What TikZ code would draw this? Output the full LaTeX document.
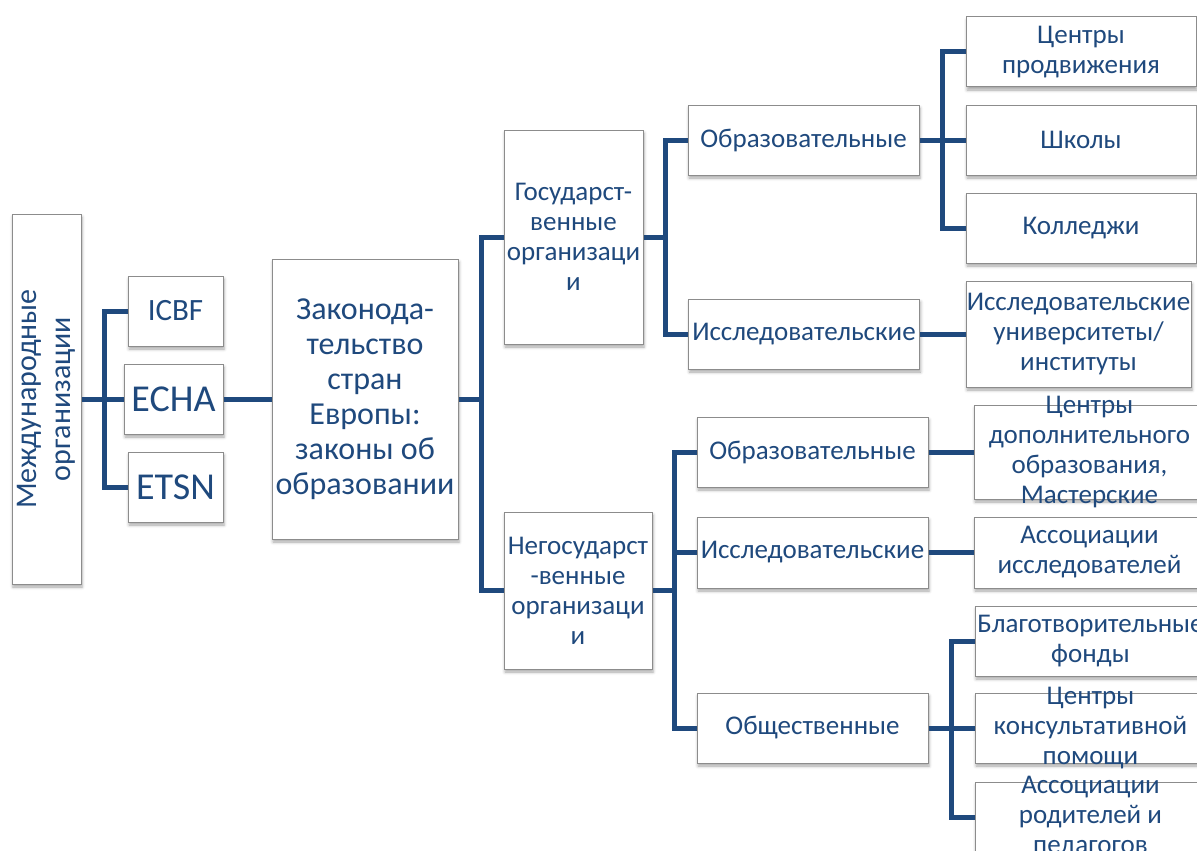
\documentclass[tikz,border=0pt]{standalone}
\usepackage{fontspec}
\setmainfont{Carlito}
\usetikzlibrary{shadows.blur}
\definecolor{navy}{RGB}{31,73,125}
\definecolor{frame}{RGB}{140,140,140}

\begin{document}
\begin{tikzpicture}[x=1pt, y=-1pt,
  box/.style={draw=frame, line width=1pt, fill=white, inner sep=0pt,
    blur shadow={shadow xshift=1pt, shadow yshift=-3pt, shadow blur radius=3pt, shadow opacity=35}},
  txt/.style={text=navy, align=center, inner sep=0pt, font=\fontsize{27}{30}\selectfont},
  big/.style={txt, font=\fontsize{32}{35}\selectfont},
  link/.style={draw=navy, line width=5pt}]
\useasboundingbox (0,0) rectangle (1197,851);
\clip (0,0) rectangle (1197,851);

\node[box, minimum width=69pt, minimum height=370pt,
  label={[txt, rotate=90, font=\fontsize{30}{34}\selectfont]center:{Международные\\организации}}] (mezh) at (46.5,399) {};
\node[box, minimum width=95pt, minimum height=70pt,
  label={[txt, font=\fontsize{31}{35}\selectfont]center:ICBF}] (icbf) at (175.5,311) {};
\node[box, minimum width=99pt, minimum height=70pt,
  label={[txt, font=\fontsize{38}{40}\selectfont]center:ECHA}] (echa) at (173.5,399) {};
\node[box, minimum width=95pt, minimum height=70pt,
  label={[txt, font=\fontsize{38}{40}\selectfont]center:ETSN}] (etsn) at (175.5,487) {};
\node[box, minimum width=186pt, minimum height=280pt,
  label={[big]center:{Законода-\\тельство\\стран\\Европы:\\законы об\\образовании}}] (zakon) at (365,399) {};

\node[box, minimum width=139pt, minimum height=214pt,
  label={[txt]center:{Государст-\\венные\\организаци\\и}}] (gos) at (573.5,237) {};
\node[box, minimum width=148pt, minimum height=157pt,
  label={[txt]center:{Негосударст\\-венные\\организаци\\и}}] (negos) at (578,590.5) {};

\node[box, minimum width=231pt, minimum height=70pt,
  label={[txt]center:Образовательные}] (obr1) at (803.5,140) {};
\node[box, minimum width=231pt, minimum height=70pt,
  label={[txt]center:Исследовательские}] (iss1) at (804,334) {};
\node[box, minimum width=230pt, minimum height=70pt,
  label={[txt]center:{Центры\\продвижения}}] (centr) at (1081,52) {};
\node[box, minimum width=230pt, minimum height=70pt,
  label={[txt]center:Школы}] (shk) at (1081,140) {};
\node[box, minimum width=230pt, minimum height=70pt,
  label={[txt]center:Колледжи}] (koll) at (1081,228) {};
\node[box, minimum width=225pt, minimum height=106pt,
  label={[txt]center:{Исследовательские\\университеты/\\институты}}] (univ) at (1078.5,334) {};

\node[box, minimum width=231pt, minimum height=70pt,
  label={[txt]center:Образовательные}] (obr2) at (812.5,452) {};
\node[box, minimum width=231pt, minimum height=71pt,
  label={[txt]center:Исследовательские}] (iss2) at (812.5,552.5) {};
\node[box, minimum width=231pt, minimum height=70pt,
  label={[txt]center:Общественные}] (obsh) at (812.5,728) {};
\node[box, minimum width=231pt, minimum height=94pt,
  label={[txt]center:{Центры\\дополнительного\\образования,\\Мастерские}}] (dop) at (1089.5,452) {};
\node[box, minimum width=231pt, minimum height=71pt,
  label={[txt]center:{Ассоциации\\исследователей}}] (assoc) at (1089.5,552.5) {};
\node[box, minimum width=231pt, minimum height=70pt,
  label={[txt]center:{Благотворительные\\фонды}}] (blag) at (1090.5,641) {};
\node[box, minimum width=231pt, minimum height=70pt,
  label={[txt]center:{Центры\\консультативной\\помощи}}] (kons) at (1090.5,728) {};
\node[box, minimum width=231pt, minimum height=70pt,
  label={[txt]center:{Ассоциации\\родителей и\\педагогов}}] (rod) at (1090.5,817) {};

\coordinate (j1) at (104,399);
\coordinate (j2) at (481,399);
\coordinate (j3) at (665,237);
\coordinate (j4) at (942,140);
\coordinate (j5) at (674,590.5);
\coordinate (j6) at (951,728);

\draw[link] (mezh) -- (echa);
\draw[link] (icbf.west) -| (j1) |- (etsn.west);
\draw[link] (echa) -- (zakon);
\draw[link] (zakon) -- (j2);
\draw[link] (gos.west) -| (j2) |- (negos.west);
\draw[link] (gos) -- (j3);
\draw[link] (obr1.west) -| (j3) |- (iss1.west);
\draw[link] (obr1) -- (shk);
\draw[link] (centr.west) -| (j4) |- (koll.west);
\draw[link] (iss1) -- (univ);
\draw[link] (negos) -- (j5);
\draw[link] (obr2.west) -| (j5) |- (obsh.west);
\draw[link] (iss2.west) -- (iss2.west -| j5);
\draw[link] (obr2) -- (dop);
\draw[link] (iss2) -- (assoc);
\draw[link] (obsh) -- (kons);
\draw[link] (blag.west) -| (j6) |- (rod.west);
\end{tikzpicture}
\end{document}
